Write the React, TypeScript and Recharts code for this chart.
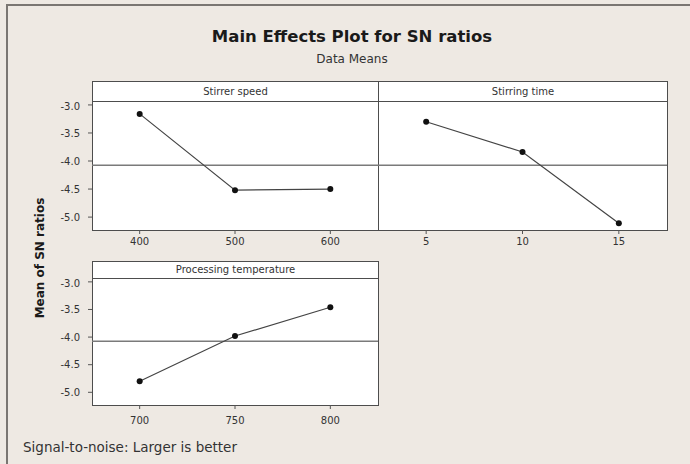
import { LineChart, Line, XAxis, YAxis, ReferenceLine } from "recharts";

const stirrerSpeedLevels = [400, 500, 600];
const stirrerSpeedSN = [-3.16, -4.52, -4.5];
const stirringTimeLevels = [5, 10, 15];
const stirringTimeSN = [-3.3, -3.84, -5.11];
const processingTempLevels = [700, 750, 800];
const processingTempSN = [-4.8, -3.98, -3.46];
const yTicks = [-5.0, -4.5, -4.0, -3.5, -3.0];

const allSN = [...stirrerSpeedSN, ...stirringTimeSN, ...processingTempSN];
const grandMean = allSN.reduce((a, b) => a + b, 0) / allSN.length;

const FONT = "'DejaVu Sans', sans-serif";
const Y_DOMAIN: [number, number] = [-5.23, -2.93];
const Y_AXIS_W = 40;

type PanelProps = {
  title: string;
  levels: number[];
  values: number[];
  left: number;
  top: number;
  width: number;
  stripH: number;
  plotH: number;
  showY: boolean;
  xTickMargin: number;
};

function Panel({ title, levels, values, left, top, width, stripH, plotH, showY, xTickMargin }: PanelProps) {
  const data = levels.map((lv, i) => ({ level: lv, sn: values[i] }));
  const step = levels[1] - levels[0];
  const xDomain: [number, number] = [levels[0] - step / 2, levels[levels.length - 1] + step / 2];
  const yw = showY ? Y_AXIS_W : 0;
  const xAxisH = 30;
  return (
    <>
      <div
        style={{
          position: "absolute",
          left,
          top,
          width: width + 1,
          height: stripH + plotH + 1,
          boxSizing: "border-box",
          border: "1px solid #4d4d4d",
          background: "#ffffff",
        }}
      >
        <div
          style={{
            height: stripH,
            boxSizing: "border-box",
            borderBottom: "1px solid #4d4d4d",
            textAlign: "center",
            fontSize: 10,
            lineHeight: `${stripH - 1}px`,
            color: "#333",
          }}
        >
          {title}
        </div>
      </div>
      <div style={{ position: "absolute", left: left - yw, top: top + stripH }}>
        <LineChart width={width + yw} height={plotH + xAxisH} data={data} margin={{ top: 0, right: 0, bottom: 0, left: 0 }}>
          <XAxis
            dataKey="level"
            type="number"
            domain={xDomain}
            ticks={levels}
            axisLine={false}
            tickSize={4}
            tickMargin={xTickMargin}
            height={xAxisH}
            tickLine={{ stroke: "#555" }}
            tick={{ fill: "#333", fontSize: 10, fontFamily: FONT }}
          />
          <YAxis
            type="number"
            domain={Y_DOMAIN}
            ticks={yTicks}
            hide={!showY}
            width={Y_AXIS_W}
            axisLine={false}
            tickSize={4}
            tickMargin={8}
            tickLine={{ stroke: "#555" }}
            tickFormatter={(v: number) => v.toFixed(1)}
            tick={{ fill: "#333", fontSize: 10, fontFamily: FONT }}
          />
          <ReferenceLine y={grandMean} stroke="#7a7a7a" strokeWidth={1.5} />
          <Line
            dataKey="sn"
            stroke="#444"
            strokeWidth={1.2}
            dot={{ r: 3, fill: "#111", stroke: "none" }}
            isAnimationActive={false}
          />
        </LineChart>
      </div>
    </>
  );
}

export default function App() {
  return (
    <div
      style={{
        position: "absolute",
        left: 0,
        top: 0,
        width: 690,
        height: 464,
        background: "#eee9e3",
        fontFamily: FONT,
        overflow: "hidden",
      }}
    >
      <div
        style={{
          position: "absolute",
          left: 6,
          top: 4,
          width: 700,
          height: 480,
          borderTop: "2px solid #7a7672",
          borderLeft: "2px solid #7a7672",
        }}
      />
      <div
        style={{
          position: "absolute",
          left: 352,
          top: 27,
          transform: "translateX(-50%)",
          whiteSpace: "nowrap",
          fontSize: 16.5,
          fontWeight: "bold",
          color: "#1a1a1a",
        }}
      >
        Main Effects Plot for SN ratios
      </div>
      <div
        style={{
          position: "absolute",
          left: 352,
          top: 52,
          transform: "translateX(-50%)",
          whiteSpace: "nowrap",
          fontSize: 12,
          color: "#333",
        }}
      >
        Data Means
      </div>
      <div
        style={{
          position: "absolute",
          left: 40,
          top: 258,
          transform: "translate(-50%, -50%) rotate(-90deg)",
          whiteSpace: "nowrap",
          fontSize: 12,
          fontWeight: "bold",
          color: "#1a1a1a",
        }}
      >
        Mean of SN ratios
      </div>
      <Panel
        title="Stirrer speed"
        levels={stirrerSpeedLevels}
        values={stirrerSpeedSN}
        left={92}
        top={81}
        width={286}
        stripH={20}
        plotH={129}
        showY={true}
        xTickMargin={4}
      />
      <Panel
        title="Stirring time"
        levels={stirringTimeLevels}
        values={stirringTimeSN}
        left={378}
        top={81}
        width={289}
        stripH={20}
        plotH={129}
        showY={false}
        xTickMargin={4}
      />
      <Panel
        title="Processing temperature"
        levels={processingTempLevels}
        values={processingTempSN}
        left={92}
        top={261}
        width={286}
        stripH={17}
        plotH={127}
        showY={true}
        xTickMargin={8}
      />
      <div
        style={{
          position: "absolute",
          left: 23,
          top: 439,
          whiteSpace: "nowrap",
          fontSize: 13.5,
          color: "#333",
        }}
      >
        Signal-to-noise: Larger is better
      </div>
    </div>
  );
}
